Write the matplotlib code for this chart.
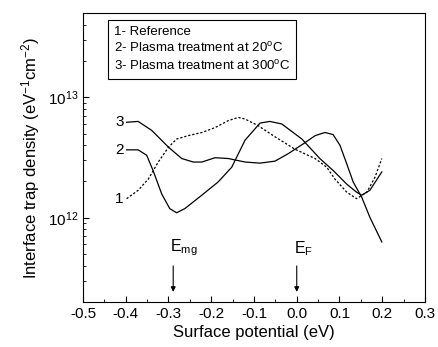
import numpy as np
import matplotlib
matplotlib.use('Agg')
from matplotlib import pyplot as plt
from matplotlib.ticker import LogLocator, NullFormatter

plt.rcParams['font.family'] = ['Liberation Sans', 'DejaVu Sans']
plt.rcParams['mathtext.fontset'] = 'custom'
plt.rcParams['mathtext.rm'] = 'Liberation Sans'
plt.rcParams['mathtext.it'] = 'Liberation Sans'

# curve 1 - reference (dashed)
x1 = [-0.398, -0.371, -0.347, -0.324, -0.300, -0.281, -0.254, -0.222, -0.191,
      -0.160, -0.137, -0.121, -0.090, -0.051, -0.004, 0.043, 0.070, 0.089,
      0.117, 0.140, 0.164, 0.183, 0.199]
y1 = [1.44e12, 1.69e12, 2.1e12, 2.9e12, 3.85e12, 4.5e12, 4.8e12, 5.1e12, 5.6e12,
      6.4e12, 6.8e12, 6.6e12, 5.8e12, 4.7e12, 3.7e12, 3.1e12, 2.63e12, 2.1e12,
      1.63e12, 1.44e12, 1.63e12, 2.17e12, 3.1e12]

# curve 2 - plasma 20C
x2 = [-0.398, -0.371, -0.351, -0.336, -0.316, -0.297, -0.281, -0.262, -0.222,
      -0.184, -0.152, -0.121, -0.086, -0.063, -0.035, 0.012, 0.054, 0.085,
      0.117, 0.140, 0.152, 0.171, 0.199]
y2 = [3.66e12, 3.66e12, 3.3e12, 2.46e12, 1.58e12, 1.19e12, 1.1e12, 1.19e12, 1.54e12,
      1.98e12, 2.63e12, 4.4e12, 6.1e12, 6.3e12, 6.0e12, 4.5e12, 3.1e12, 2.47e12,
      1.9e12, 1.63e12, 1.54e12, 1.69e12, 2.4e12]

# curve 3 - plasma 300C
x3 = [-0.398, -0.371, -0.339, -0.300, -0.269, -0.242, -0.222, -0.191, -0.160,
      -0.121, -0.086, -0.051, -0.020, 0.015, 0.043, 0.066, 0.085, 0.101,
      0.117, 0.132, 0.152, 0.171, 0.199]
y3 = [6.2e12, 6.3e12, 5.3e12, 3.85e12, 3.1e12, 2.9e12, 2.9e12, 3.15e12, 3.1e12,
      2.9e12, 2.84e12, 2.95e12, 3.4e12, 4.1e12, 4.8e12, 5.1e12, 4.9e12, 4.0e12,
      2.8e12, 1.98e12, 1.48e12, 1.01e12, 6.3e11]

curve_labels = ['1', '2', '3']
legend_lines = ['1- Reference',
                '2- Plasma treatment at 20$^{\\mathregular{o}}$C',
                '3- Plasma treatment at 300$^{\\mathregular{o}}$C']

fig = plt.figure(figsize=(4.38, 3.47), dpi=100)
ax = fig.add_axes([83/438, 1-302/347, (425-83)/438, (302-13)/347])

ax.plot(x1, y1, color='black', lw=0.9, ls=(0, (1.8, 1.5)))
ax.plot(x2, y2, color='black', lw=0.9)
ax.plot(x3, y3, color='black', lw=0.9)

for xs, ys, lab in zip([x1, x2, x3], [y1, y2, y3], curve_labels):
    ax.text(xs[0] - 0.007, ys[0], lab, ha='right', va='center', fontsize=11)

ax.set_yscale('log')
ax.set_xlim(-0.5, 0.3)
ax.set_ylim(2e11, 5e13)
ax.yaxis.set_major_locator(LogLocator(base=10, numticks=10))
ax.yaxis.set_minor_locator(LogLocator(base=10, subs=np.arange(2, 10), numticks=20))
ax.yaxis.set_minor_formatter(NullFormatter())
ax.set_xticks(np.arange(-0.5, 0.31, 0.1))
ax.set_xticklabels(['-0.5', '-0.4', '-0.3', '-0.2', '-0.1', '0.0', '0.1', '0.2', '0.3'])
ax.set_xticks(np.arange(-0.45, 0.3, 0.1), minor=True)
ax.tick_params(which='both', direction='in', top=False, right=False, labelsize=11)
ax.tick_params(which='major', length=4)
ax.tick_params(which='minor', length=2.5)

ax.set_xlabel('Surface potential (eV)', fontsize=12, labelpad=3)
ax.set_ylabel('Interface trap density (eV$^{\\mathregular{-1}}$cm$^{\\mathregular{-2}}$)', fontsize=12, labelpad=4)

# arrows
ax.annotate('', xy=(-0.289, 2.3e11), xytext=(-0.289, 4.2e11),
            arrowprops=dict(arrowstyle='-|>', color='black', lw=0.8, mutation_scale=7))
ax.annotate('', xy=(0.0, 2.3e11), xytext=(0.0, 4.2e11),
            arrowprops=dict(arrowstyle='-|>', color='black', lw=0.8, mutation_scale=7))
ax.text(-0.297, 4.6e11, 'E$_{\\mathregular{mg}}$', ha='left', va='bottom', fontsize=11.5)
ax.text(-0.006, 4.6e11, 'E$_{\\mathregular{F}}$', ha='left', va='bottom', fontsize=11.5)

ax.text(-0.428, 3.9e13, '\n'.join(legend_lines), fontsize=9.5, va='top', ha='left',
        linespacing=1.3,
        bbox=dict(boxstyle='square,pad=0.45', fc='white', ec='black', lw=0.8))

fig.savefig('out.png', dpi=100)
